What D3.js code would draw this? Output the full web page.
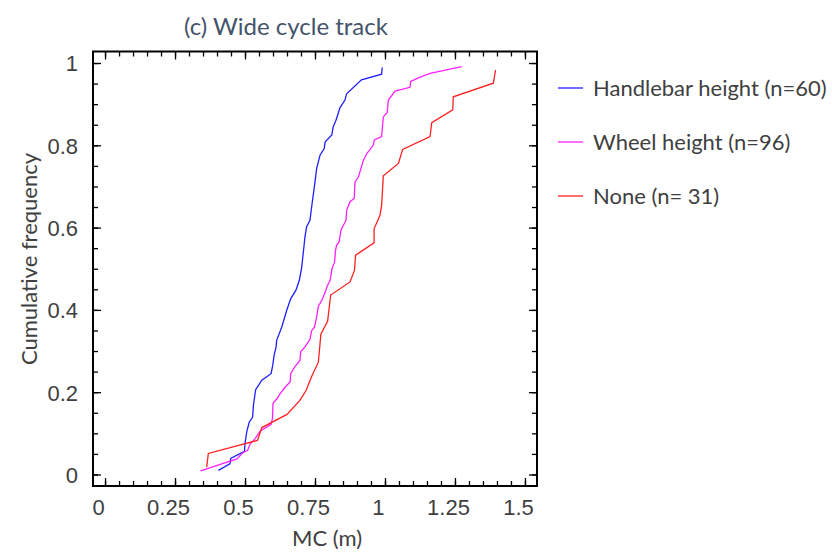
<!DOCTYPE html>
<html>
<head>
<meta charset="utf-8">
<script src="https://cdn.jsdelivr.net/npm/d3@7"></script>
<style>
  body { margin: 0; background: #fff; }
  svg { font-family: Lato, "Open Sans", sans-serif; }
</style>
</head>
<body>
<div id="chart"></div>
<script>
// cumulative frequency curves
var handlebarMC = [0.405, 0.446, 0.449, 0.498, 0.500, 0.506, 0.515, 0.527, 0.530, 0.538, 0.560, 0.593, 0.599, 0.604, 0.611, 0.613, 0.631, 0.649, 0.663, 0.682, 0.694, 0.702, 0.711, 0.714, 0.720, 0.732, 0.738, 0.750, 0.756, 0.768, 0.783, 0.786, 0.810, 0.815, 0.825, 0.833, 0.839, 0.857, 0.863, 0.916, 0.988, 0.990];
var handlebarCF = [0.010, 0.026, 0.039, 0.056, 0.075, 0.103, 0.127, 0.139, 0.168, 0.206, 0.229, 0.245, 0.265, 0.290, 0.310, 0.326, 0.358, 0.399, 0.427, 0.448, 0.472, 0.501, 0.557, 0.577, 0.602, 0.618, 0.650, 0.711, 0.744, 0.776, 0.792, 0.808, 0.825, 0.845, 0.861, 0.878, 0.891, 0.910, 0.925, 0.959, 0.973, 0.989];

var wheelMC = [0.341, 0.471, 0.494, 0.509, 0.518, 0.536, 0.554, 0.593, 0.598, 0.600, 0.614, 0.625, 0.643, 0.661, 0.663, 0.679, 0.696, 0.699, 0.714, 0.732, 0.738, 0.748, 0.756, 0.762, 0.774, 0.786, 0.793, 0.804, 0.811, 0.820, 0.823, 0.827, 0.836, 0.843, 0.861, 0.863, 0.875, 0.890, 0.893, 0.905, 0.923, 0.935, 0.958, 0.962, 0.988, 0.994, 1.008, 1.012, 1.036, 1.089, 1.092, 1.119, 1.161, 1.274];
var wheelCF = [0.009, 0.038, 0.054, 0.058, 0.074, 0.087, 0.105, 0.122, 0.136, 0.173, 0.184, 0.196, 0.212, 0.225, 0.245, 0.263, 0.277, 0.298, 0.310, 0.328, 0.350, 0.358, 0.383, 0.409, 0.423, 0.442, 0.457, 0.472, 0.501, 0.516, 0.543, 0.557, 0.565, 0.594, 0.618, 0.642, 0.663, 0.671, 0.711, 0.723, 0.764, 0.780, 0.800, 0.813, 0.821, 0.869, 0.880, 0.910, 0.932, 0.941, 0.955, 0.964, 0.975, 0.991];

var noneMC = [0.363, 0.369, 0.545, 0.560, 0.650, 0.696, 0.718, 0.738, 0.762, 0.771, 0.795, 0.806, 0.875, 0.891, 0.895, 0.961, 0.961, 0.982, 0.988, 0.994, 1.048, 1.063, 1.161, 1.167, 1.242, 1.244, 1.387, 1.395];
var noneCF = [0.018, 0.051, 0.083, 0.114, 0.146, 0.180, 0.204, 0.238, 0.273, 0.341, 0.372, 0.436, 0.468, 0.496, 0.533, 0.563, 0.597, 0.630, 0.654, 0.726, 0.756, 0.790, 0.821, 0.855, 0.886, 0.918, 0.951, 0.983];

var seriesNames = ["Handlebar height (n=60)", "Wheel height (n=96)", "None (n= 31)"];
var seriesColors = ["#1f1fff", "#ff1fff", "#ff2020"];

var xMajor = [0, 0.25, 0.5, 0.75, 1, 1.25, 1.5];
var xLabels = ["0", "0.25", "0.5", "0.75", "1", "1.25", "1.5"];
var yMajor = [0, 0.2, 0.4, 0.6, 0.8, 1];
var yLabels = ["0", "0.2", "0.4", "0.6", "0.8", "1"];

var svgWidth = 832;
var svgHeight = 554;

var margin = {top: 51.5, right: 295, bottom: 68, left: 93};
var width = svgWidth - margin.left - margin.right;
var height = svgHeight - margin.top - margin.bottom;

var svg = d3.select("#chart")
  .append("svg")
  .attr("width", svgWidth)
  .attr("height", svgHeight);

var chartGroup = svg.append("g")
  .attr("transform", `translate(${margin.left}, ${margin.top})`);

var xScale = d3.scaleLinear()
  .domain([-0.043, 1.543])
  .range([0, width]);

var yScale = d3.scaleLinear()
  .domain([-0.028, 1.028])
  .range([height, 0]);

var xMinor = d3.range(0, 1.5001, 0.05).map(d => +d.toFixed(2));
var yMinor = d3.range(0, 1.0001, 0.05).map(d => +d.toFixed(2));

function styleAxis(g) {
  g.select(".domain").remove();
  g.selectAll("line").attr("stroke", "#000").attr("stroke-width", 1.3);
}

// minor ticks on all four sides
chartGroup.append("g").attr("transform", `translate(0, ${height})`)
  .call(d3.axisBottom(xScale).tickValues(xMinor).tickSize(-5).tickFormat(""))
  .call(styleAxis);
chartGroup.append("g")
  .call(d3.axisTop(xScale).tickValues(xMinor).tickSize(-5).tickFormat(""))
  .call(styleAxis);
chartGroup.append("g")
  .call(d3.axisLeft(yScale).tickValues(yMinor).tickSize(-5).tickFormat(""))
  .call(styleAxis);
chartGroup.append("g").attr("transform", `translate(${width}, 0)`)
  .call(d3.axisRight(yScale).tickValues(yMinor).tickSize(-5).tickFormat(""))
  .call(styleAxis);

// major ticks with labels
var bottomAxis = chartGroup.append("g")
  .attr("transform", `translate(0, ${height})`)
  .call(d3.axisBottom(xScale).tickValues(xMajor).tickSize(-8).tickFormat((d, i) => xLabels[i]))
  .call(styleAxis);
bottomAxis.selectAll("text")
  .attr("y", 29).attr("dy", null).attr("dx", -7)
  .attr("fill", "#404040").style("font-size", "22px");

var leftAxis = chartGroup.append("g")
  .call(d3.axisLeft(yScale).tickValues(yMajor).tickSize(-8).tickFormat((d, i) => yLabels[i]))
  .call(styleAxis);
leftAxis.selectAll("text")
  .attr("x", -15).attr("dy", "0.36em")
  .attr("fill", "#404040").style("font-size", "22px");

chartGroup.append("g")
  .call(d3.axisTop(xScale).tickValues(xMajor).tickSize(-8).tickFormat(""))
  .call(styleAxis);
chartGroup.append("g").attr("transform", `translate(${width}, 0)`)
  .call(d3.axisRight(yScale).tickValues(yMajor).tickSize(-8).tickFormat(""))
  .call(styleAxis);

// frame
chartGroup.append("rect")
  .attr("width", width)
  .attr("height", height)
  .attr("fill", "none")
  .attr("stroke", "#000")
  .attr("stroke-width", 2);

// curves
var seriesData = [
  d3.zip(handlebarMC, handlebarCF),
  d3.zip(wheelMC, wheelCF),
  d3.zip(noneMC, noneCF)
];

var line = d3.line()
  .x(d => xScale(d[0]))
  .y(d => yScale(d[1]));

chartGroup.selectAll(".curve")
  .data(seriesData)
  .enter()
  .append("path")
  .attr("class", "curve")
  .attr("d", line)
  .attr("fill", "none")
  .attr("stroke", (d, i) => seriesColors[i])
  .attr("stroke-width", 1.3);

// legend
var legend = svg.append("g")
  .attr("transform", "translate(558, 88)");

var legendItems = legend.selectAll("g")
  .data(seriesNames)
  .enter()
  .append("g")
  .attr("transform", (d, i) => `translate(0, ${i * 54})`);

legendItems.append("line")
  .attr("x1", 0).attr("x2", 25)
  .attr("stroke", (d, i) => seriesColors[i])
  .attr("stroke-width", 1.3);

legendItems.append("text")
  .attr("x", 35)
  .attr("dy", "0.35em")
  .attr("fill", "#404040")
  .style("font-size", "22px")
  .text(d => d);

// titles
svg.append("text")
  .attr("x", 286)
  .attr("y", 35)
  .attr("text-anchor", "middle")
  .attr("fill", "#44546a")
  .style("font-size", "24px")
  .text("(c) Wide cycle track");

svg.append("text")
  .attr("x", 327)
  .attr("y", 546)
  .attr("text-anchor", "middle")
  .attr("fill", "#404040")
  .style("font-size", "22px")
  .text("MC (m)");

svg.append("text")
  .attr("transform", "translate(37, 259) rotate(-90)")
  .attr("text-anchor", "middle")
  .attr("fill", "#404040")
  .style("font-size", "22px")
  .text("Cumulative frequency");
</script>
</body>
</html>
